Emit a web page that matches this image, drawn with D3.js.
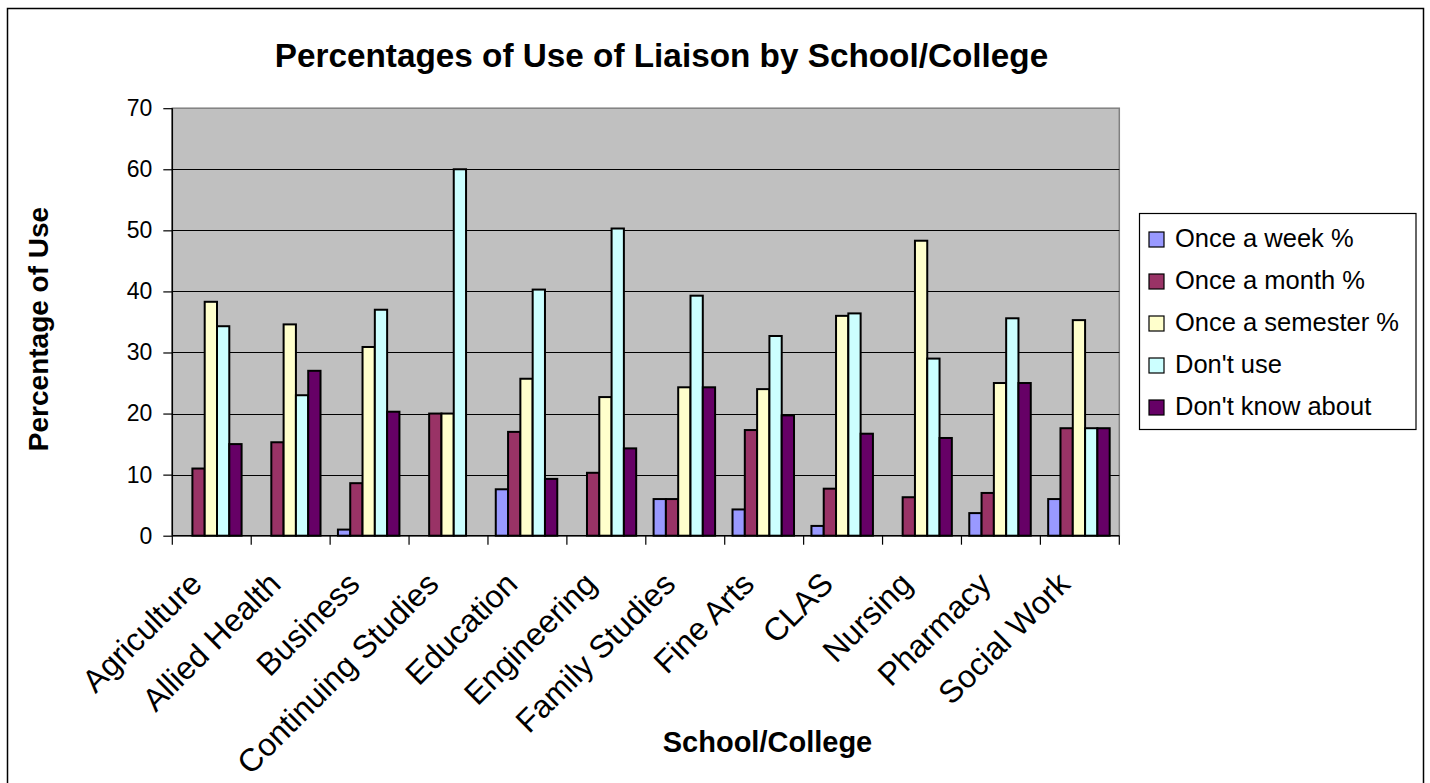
<!DOCTYPE html>
<html><head><meta charset="utf-8">
<script src="https://cdn.jsdelivr.net/npm/d3@7"></script>
<style>
body{margin:0;background:#fff;}
svg{display:block;font-family:"Liberation Sans",Arial,sans-serif;}
</style>
</head><body>
<svg id="c" width="1430" height="783"></svg>
<script>
const categories = ["Agriculture","Allied Health","Business","Continuing Studies","Education","Engineering","Family Studies","Fine Arts","CLAS","Nursing","Pharmacy","Social Work"];
const seriesNames = ["Once a week %","Once a month %","Once a semester %","Don't use","Don't know about"];
const seriesColors = ["#9999FF","#993366","#FFFFCC","#CCFFFF","#660066"];
const onceWeek     = [0,    0,    1.0,  0,    7.6,  0,    6.0,  4.3,  1.6,  0,    3.7,  6.0];
const onceMonth    = [11.0, 15.3, 8.6,  20.0, 17.0, 10.3, 6.0,  17.3, 7.7,  6.3,  7.0,  17.6];
const onceSemester = [38.3, 34.6, 30.9, 20.0, 25.7, 22.7, 24.3, 24.0, 36.0, 48.3, 25.0, 35.3];
const dontUse      = [34.3, 23.0, 37.0, 60.0, 40.3, 50.3, 39.3, 32.7, 36.4, 29.0, 35.6, 17.6];
const dontKnow     = [15.0, 27.0, 20.3, 0,    9.3,  14.3, 24.3, 19.7, 16.7, 16.0, 25.0, 17.6];
const yTicks = [0,10,20,30,40,50,60,70];
const titleText = "Percentages of Use of Liaison by School/College";
const xTitle = "School/College";
const yTitle = "Percentage of Use";

const seriesValues = [onceWeek, onceMonth, onceSemester, dontUse, dontKnow];

const svg = d3.select("#c");
const plot = {left:172.3, right:1119.3, top:108.2, bottom:535.7};

// outer frame
svg.append("rect").attr("x",7.5).attr("y",8.5).attr("width",1416).attr("height",790)
  .attr("fill","#fff").attr("stroke","#000").attr("stroke-width",1.5);

const x0 = d3.scaleBand().domain(categories).range([plot.left, plot.right]).padding(0);
const bw = x0.bandwidth();
const x1 = d3.scaleBand().domain(seriesNames).range([7.8, 7.8 + 5*12.3]).padding(0);
const y = d3.scaleLinear().domain([0,70]).range([plot.bottom, plot.top]);

// plot background
svg.append("rect").attr("x",plot.left).attr("y",plot.top)
  .attr("width",plot.right-plot.left).attr("height",plot.bottom-plot.top)
  .attr("fill","#C0C0C0").attr("stroke","#808080").attr("stroke-width",1.5);

// gridlines
svg.append("g").selectAll("line").data(yTicks.filter(t=>t>0 && t<70)).join("line")
  .attr("x1",plot.left).attr("x2",plot.right)
  .attr("y1",d=>Math.round(y(d))+0.5).attr("y2",d=>Math.round(y(d))+0.5)
  .attr("stroke","#000").attr("stroke-width",1);

// bars
const gCat = svg.append("g").selectAll("g").data(categories).join("g")
  .attr("transform",d=>`translate(${x0(d)},0)`);
gCat.selectAll("rect").data((c,i)=>seriesNames.map((s,j)=>({s, j, v:seriesValues[j][i]})).filter(d=>d.v>0))
  .join("rect")
  .attr("x",d=>x1(d.s)).attr("width",x1.bandwidth())
  .attr("y",d=>y(d.v)).attr("height",d=>y(0)-y(d.v))
  .attr("fill",d=>seriesColors[d.j]).attr("stroke","#000").attr("stroke-width",2);

// y axis
const yAxis = d3.axisLeft(y).tickValues(yTicks).tickSize(9).tickPadding(11).tickFormat(d3.format("d"));
const gy = svg.append("g").attr("transform",`translate(${plot.left},0)`).call(yAxis);
gy.select(".domain").attr("stroke","#000").attr("stroke-width",1.5).attr("d",`M0,${plot.top}V${plot.bottom}`);
gy.selectAll(".tick line").attr("stroke","#000").attr("stroke-width",1.2);
gy.selectAll(".tick text").attr("font-size",23).attr("font-family","Liberation Sans, Arial, sans-serif").attr("fill","#000");

// x axis line and ticks at category boundaries
svg.append("line").attr("x1",plot.left).attr("x2",plot.right).attr("y1",plot.bottom).attr("y2",plot.bottom)
  .attr("stroke","#000").attr("stroke-width",1.5);
const bounds = categories.map(c=>x0(c)).concat([plot.right]);
svg.append("g").selectAll("line").data(bounds).join("line")
  .attr("x1",d=>d).attr("x2",d=>d).attr("y1",plot.bottom).attr("y2",plot.bottom+9)
  .attr("stroke","#000").attr("stroke-width",1.2);

// x labels
svg.append("g").selectAll("text").data(categories).join("text")
  .attr("transform",d=>`translate(${x0(d)+bw/2-8},586) rotate(-45)`)
  .attr("text-anchor","end").attr("font-size",32).attr("fill","#000")
  .text(d=>d);

// title
svg.append("text").attr("x",661.5).attr("y",67).attr("text-anchor","middle")
  .attr("font-size",33.3).attr("font-weight","bold").text(titleText);
// axis titles
svg.append("text").attr("x",767.5).attr("y",752).attr("text-anchor","middle")
  .attr("font-size",29).attr("font-weight","bold").text(xTitle);
svg.append("text").attr("transform","translate(48,329) rotate(-90)").attr("text-anchor","middle")
  .attr("font-size",28).attr("font-weight","bold").text(yTitle);

// legend
const lg = svg.append("g");
lg.append("rect").attr("x",1139.5).attr("y",213.5).attr("width",276.5).attr("height",216)
  .attr("fill","#fff").attr("stroke","#000").attr("stroke-width",1.2);
const items = lg.selectAll("g").data(seriesNames).join("g")
  .attr("transform",(d,i)=>`translate(0,${239.5 + i*42})`);
items.append("rect").attr("x",1149).attr("y",-7.5).attr("width",15).attr("height",15)
  .attr("fill",(d,i)=>seriesColors[i]).attr("stroke","#000").attr("stroke-width",1.2);
items.append("text").attr("x",1175).attr("y",7).attr("font-size",25.5).attr("fill","#000").text(d=>d);
</script>
</body></html>
